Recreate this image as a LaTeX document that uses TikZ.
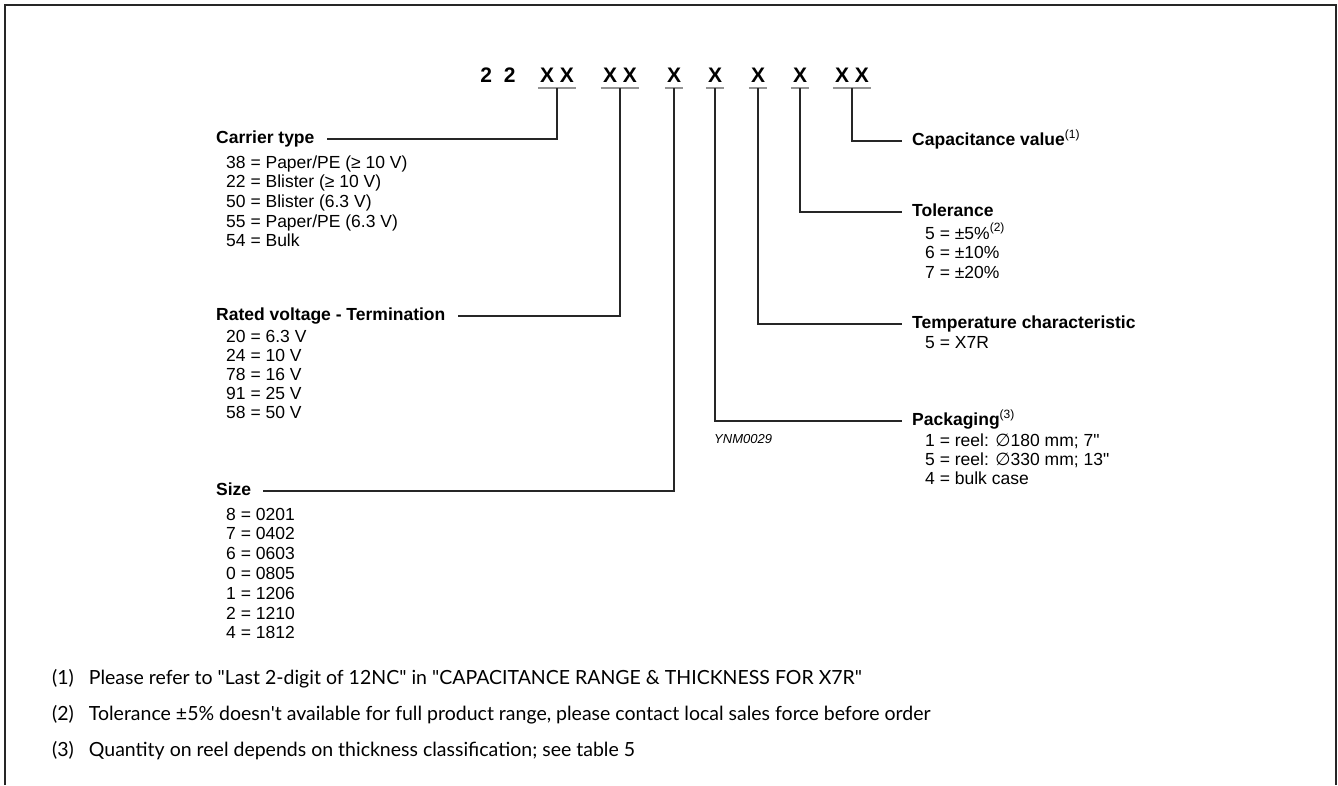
\documentclass[tikz,border=0pt]{standalone}
\usepackage{fontspec}
\setmainfont{Liberation Sans}
\newfontfamily\notefont{Lato}
\newfontfamily\symfont{DejaVu Sans}
\usetikzlibrary{positioning}
\newcommand{\supnote}[1]{\raisebox{0.42em}{\fontsize{12}{12}\selectfont\mdseries #1}}
\tikzset{
    code/.style={font=\fontsize{21}{24}\selectfont\bfseries, inner sep=0pt, anchor=base},
    uline/.style={gray!85, line width=1.6pt},
    conn/.style={line width=1.1pt, black!85},
    hd/.style={font=\fontsize{17.5}{20}\selectfont\bfseries, inner sep=0pt, anchor=west,
        text height=12.6pt, text depth=3.7pt},
    item/.style={font=\fontsize{17.5}{20}\selectfont, inner sep=0pt, anchor=base west},
    note/.style={font=\notefont\fontsize{19.5}{22}\selectfont, inner sep=0pt, anchor=base west}
}

\begin{document}
\begin{tikzpicture}[x=1pt,y=-1pt]

        \useasboundingbox (0,0) rectangle (1338,785);

        % Draw frame.
        \draw[line width=1.8pt, black!85] (5,785) -- (5,5) -- (1336,5) -- (1336,785);

        % Draw code letters.
        \node[code] (c22)   at (498,82) {2\hspace{12pt}2};
        \node[code] (ctype) at (557,82) {X\hspace{6pt}X};
        \node[code] (cvolt) at (620,82) {X\hspace{6pt}X};
        \node[code] (csize) at (674,82) {X};
        \node[code] (cpack) at (715,82) {X};
        \node[code] (ctemp) at (758,82) {X};
        \node[code] (ctol)  at (800,82) {X};
        \node[code] (ccap)  at (852,82) {X\hspace{6pt}X};
        \foreach \n in {ctype,cvolt,csize,cpack,ctemp,ctol,ccap}
            \draw[uline] ([xshift=-2pt,yshift=-6pt]\n.south west) -- ([xshift=2pt,yshift=-6pt]\n.south east);

        % Draw headings.
        \node[hd] (hctype) at (216,139) {Carrier type};
        \node[hd] (hvolt)  at (216,316) {Rated voltage - Termination};
        \node[hd] (hsize)  at (216,491) {Size};
        \node[hd] (hcap)   at (912,141) {Capacitance value\supnote{(1)}};
        \node[hd] (htol)   at (912,212) {Tolerance};
        \node[hd] (htemp)  at (912,324) {Temperature characteristic};
        \node[hd] (hpack)  at (912,421) {Packaging\supnote{(3)}};

        % Draw connectors.
        \foreach \c/\h in {ctype/hctype,cvolt/hvolt,csize/hsize}
            \draw[conn] ([yshift=-6pt]\c.south) |- ([xshift=12pt]\h.east);
        \foreach \c/\h in {ccap/hcap,ctol/htol,ctemp/htemp,cpack/hpack}
            \draw[conn] ([yshift=-6pt]\c.south) |- ([xshift=-10pt]\h.west);

        % Draw value lists.
        \foreach \t [count=\i from 0] in {{38 = Paper/PE (≥ 10 V)},{22 = Blister (≥ 10 V)},
                {50 = Blister (6.3 V)},{55 = Paper/PE (6.3 V)},{54 = Bulk}}
            \node[item] (lct\i) at (226,168+19.7*\i) {\t};
        \foreach \t [count=\i from 0] in {20 = 6.3 V,24 = 10 V,78 = 16 V,91 = 25 V,58 = 50 V}
            \node[item] (lvolt\i) at (226,342+19.2*\i) {\t};
        \foreach \t [count=\i from 0] in {8 = 0201,7 = 0402,6 = 0603,0 = 0805,1 = 1206,2 = 1210,4 = 1812}
            \node[item] (lsize\i) at (226,520+19.8*\i) {\t};
        \foreach \t [count=\i from 0] in {{5 = ±5\%\supnote{(2)}},{6 = ±10\%},{7 = ±20\%}}
            \node[item] (ltol\i) at (925,239+19.5*\i) {\t};
        \node[item] (ltemp0) at (925,348) {5 = X7R};
        \foreach \t [count=\i from 0] in {{1 = reel: {\symfont ∅}180 mm; 7\textquotedbl},
                {5 = reel: {\symfont ∅}330 mm; 13\textquotedbl},{4 = bulk case}}
            \node[item] (lpack\i) at (925,446+19*\i) {\t};

        \node[font=\fontsize{13}{15}\selectfont\itshape, inner sep=0pt, anchor=west] (ynm) at (714,439) {YNM0029};

        % Footnotes.
        \node[note] (fn1) at (52,684) {(1)\hspace{15pt}Please refer to "Last 2-digit of 12NC" in "CAPACITANCE RANGE \& THICKNESS FOR X7R"};
        \node[note] (fn2) at (52,720) {(2)\hspace{15pt}Tolerance ±5\% doesn\textquotesingle t available for full product range, please contact local sales force before order};
        \node[note] (fn3) at (52,756) {(3)\hspace{15pt}Quantity on reel depends on thickness classification; see table 5};

\end{tikzpicture}
\end{document}
